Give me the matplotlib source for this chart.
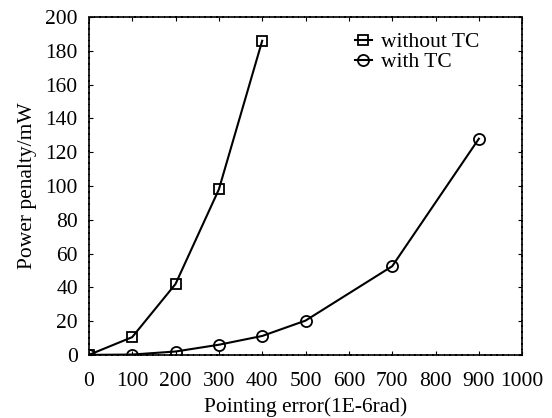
import numpy as np
import matplotlib
matplotlib.use('Agg')
import matplotlib.pyplot as plt

plt.rcParams['font.family'] = ['Liberation Serif', 'DejaVu Serif']

# datos
x_sin = [0, 100, 200, 300, 400]
y_sin = [0, 10.5, 42, 98, 186]
x_con = [0, 100, 200, 300, 400, 500, 700, 900]
y_con = [0, 0.2, 2, 6, 11.2, 20.3, 52.5, 128]

fig = plt.figure(figsize=(5.52, 4.18), dpi=100)
ax = fig.add_axes([0.161, 0.151, 0.785, 0.808])

ax.plot(x_sin, y_sin, 'k-', marker='s', mfc='none', mec='k', ms=7, mew=1.3, lw=1.5, label='without TC')
ax.plot(x_con, y_con, 'k-', marker='o', mfc='none', mec='k', ms=8, mew=1.3, lw=1.5, label='with TC')

ax.set_xlim(0, 1000)
ax.set_ylim(0, 200)
ax.set_xticks(np.arange(0, 1001, 100))
ax.set_yticks(np.arange(0, 201, 20))
ax.tick_params(direction='in', top=True, right=True, labelsize=15.5, length=3)
ax.tick_params(axis='x', pad=12)
ax.tick_params(axis='y', pad=8)
for s in ax.spines.values():
    s.set_linewidth(1.2)
    s.set_linestyle((0, (3, 0.5)))

ax.set_xlabel('Pointing error(1E-6rad)', fontsize=15.5, labelpad=5)
ax.set_ylabel('Power penalty/mW', fontsize=15.5, labelpad=6)
ax.legend(loc='upper right', frameon=False, fontsize=15.5, handlelength=0.8,
          handletextpad=0.4, labelspacing=0.0, borderaxespad=0.3, bbox_to_anchor=(0.935, 1.0))

fig.savefig('out.png', dpi=100)
